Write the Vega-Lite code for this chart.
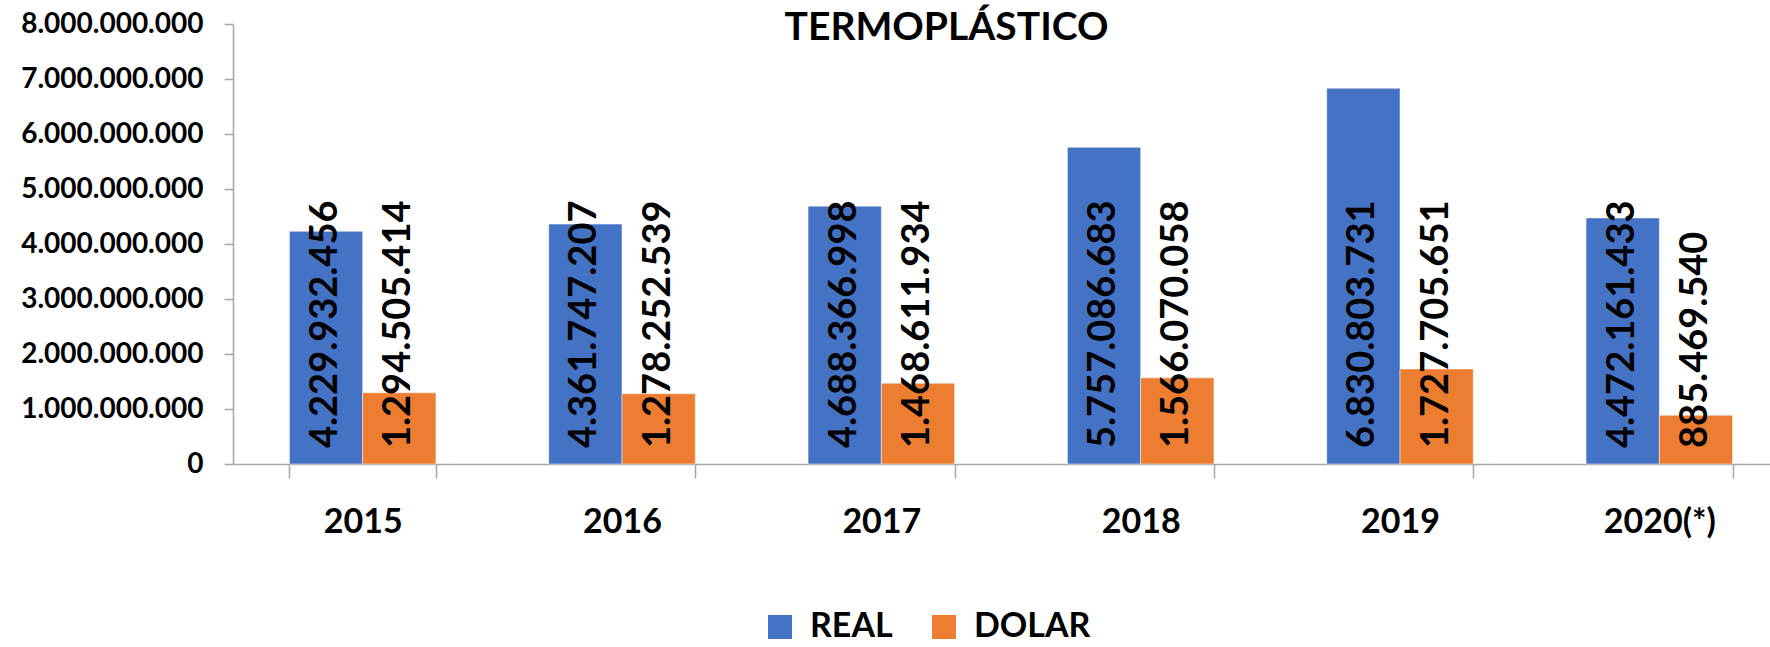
{
  "$schema": "https://vega.github.io/schema/vega-lite/v6.json",
  "width": 1537,
  "height": 440,
  "autosize": {"type": "none"},
  "padding": {"left": 233, "top": 24, "right": 0, "bottom": 183},
  "background": "white",
  "config": {
    "locale": {"number": {"decimal": ",", "thousands": ".", "grouping": [3], "currency": ["", ""]}},
    "view": {"stroke": null},
    "font": "Lato"
  },
  "title": {
    "text": "TERMOPLÁSTICO",
    "font": "Lato",
    "fontSize": 39,
    "fontWeight": "bold",
    "color": "black",
    "anchor": "middle",
    "frame": "group",
    "dx": -55,
    "dy": 38,
    "offset": 0
  },
  "data": {
    "values": [
      {"year": "2015", "serie": "REAL", "value": 4229932456},
      {"year": "2015", "serie": "DOLAR", "value": 1294505414},
      {"year": "2016", "serie": "REAL", "value": 4361747207},
      {"year": "2016", "serie": "DOLAR", "value": 1278252539},
      {"year": "2017", "serie": "REAL", "value": 4688366998},
      {"year": "2017", "serie": "DOLAR", "value": 1468611934},
      {"year": "2018", "serie": "REAL", "value": 5757086683},
      {"year": "2018", "serie": "DOLAR", "value": 1566070058},
      {"year": "2019", "serie": "REAL", "value": 6830803731},
      {"year": "2019", "serie": "DOLAR", "value": 1727705651},
      {"year": "2020(*)", "serie": "REAL", "value": 4472161433},
      {"year": "2020(*)", "serie": "DOLAR", "value": 885469540}
    ]
  },
  "encoding": {
    "x": {
      "field": "year",
      "type": "nominal",
      "sort": null,
      "scale": {"range": [0, 1556], "paddingInner": 0.435, "paddingOuter": 0.2175},
      "axis": {
        "title": null,
        "labelAngle": 0,
        "labelFont": "Lato",
        "labelFontSize": 34,
        "labelFontWeight": "bold",
        "labelColor": "black",
        "labelPadding": 27,
        "labelBaseline": "top",
        "labelLimit": 0,
        "tickBand": "extent",
        "tickSize": 14,
        "tickColor": "#A6A6A6",
        "tickWidth": 1.5,
        "domainColor": "#A6A6A6",
        "domainWidth": 1.5,
        "grid": false
      }
    },
    "xOffset": {
      "field": "serie",
      "type": "nominal",
      "sort": ["REAL", "DOLAR"],
      "scale": {"paddingInner": 0, "paddingOuter": 0}
    }
  },
  "layer": [
    {
      "mark": {"type": "bar", "stroke": "white", "strokeWidth": 0.8, "strokeOpacity": 0.6},
      "encoding": {
        "y": {
          "field": "value",
          "type": "quantitative",
          "scale": {"domain": [0, 8000000000], "nice": false},
          "axis": {
            "title": null,
            "values": [0, 1000000000, 2000000000, 3000000000, 4000000000, 5000000000, 6000000000, 7000000000, 8000000000],
            "format": ",d",
            "labelFont": "Lato",
            "labelFontSize": 28,
            "labelFontWeight": "bold",
            "labelColor": "black",
            "labelPadding": 21,
            "labelLimit": 0,
            "tickSize": 9,
            "tickColor": "#A6A6A6",
            "tickWidth": 1.5,
            "domainColor": "#A6A6A6",
            "domainWidth": 1.5,
            "grid": false
          }
        },
        "color": {
          "field": "serie",
          "type": "nominal",
          "scale": {"domain": ["REAL", "DOLAR"], "range": ["#4472C4", "#ED7D31"]},
          "legend": {
            "title": null,
            "orient": "none",
            "direction": "horizontal",
            "legendX": 530,
            "legendY": 586,
            "padding": 0,
            "symbolType": "square",
            "symbolSize": 576,
            "symbolStrokeWidth": 0,
            "symbolOpacity": 1,
            "labelFont": "Lato",
            "labelFontSize": 34,
            "labelFontWeight": "bold",
            "labelColor": "black",
            "labelOffset": 13,
            "labelLimit": 0,
            "columnPadding": 34
          }
        }
      }
    },
    {
      "mark": {
        "type": "text",
        "angle": 270,
        "align": "left",
        "baseline": "middle",
        "dx": 16,
        "font": "Lato",
        "fontSize": 38,
        "fontWeight": "bold",
        "color": "black"
      },
      "encoding": {
        "y": {"datum": 0, "type": "quantitative"},
        "text": {"field": "value", "type": "quantitative", "format": ",d"}
      }
    }
  ]
}
